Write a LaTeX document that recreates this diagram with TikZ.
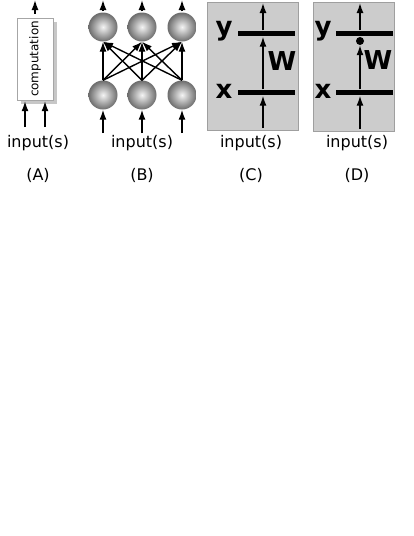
\documentclass[tikz,border=0pt]{standalone}
\usepackage{fontspec}
\setmainfont{DejaVu Sans}
\usetikzlibrary{arrows.meta,shadows}
\tikzset{
  arr/.style={-{Latex[length=10pt,width=7pt]}, line width=1.4pt},
  lbl/.style={font=\fontsize{16}{19}\selectfont, inner sep=0pt},
  big/.style={font=\fontsize{26}{30}\selectfont\bfseries, inner sep=0pt},
  ball/.style={circle, minimum size=29pt, inner sep=0pt, inner color=gray!8, outer color=gray!85!black},
  panel/.style={draw=gray!75, fill=gray!40, line width=0.8pt},
  bar/.style={fill=black, minimum width=57pt, minimum height=5pt, inner sep=0pt},
  compbox/.style={draw=gray!70, fill=white, minimum width=36pt, minimum height=82pt, inner sep=0pt,
    drop shadow={shadow xshift=4pt, shadow yshift=-4pt, fill=gray!55, opacity=0.8}}
}
\begin{document}
\begin{tikzpicture}[x=1pt,y=-1pt]
\useasboundingbox[fill=white] (0,0) rectangle (414,536);
% ---------- (A)
\node[compbox] (box) at (35,59) {};
\node[rotate=90, font=\fontsize{12}{14}\selectfont, inner sep=0pt] (comp) at (box.center) {computation};
\coordinate (aout) at (35,0);
\coordinate (ain1) at (25,127);
\coordinate (ain2) at (45,127);
\draw[arr] ([yshift=4pt]box.north) -- (aout);
\draw[arr] (ain1) -- ([yshift=-1pt]ain1 |- box.south);
\draw[arr] (ain2) -- ([yshift=-1pt]ain2 |- box.south);
\node[lbl] (inA) at (38,143) {input(s)};
\node[lbl] (capA) at (38,175) {(A)};
% ---------- (B)
\foreach \i/\x in {1/103,2/142,3/182}{
  \node[ball] (t\i) at (\x,27) {};
  \node[ball] (b\i) at (\x,95) {};
  \coordinate (to\i) at (\x,0);
  \coordinate (bi\i) at (\x,133);
  \draw[arr] ([yshift=1pt]t\i.north) -- (to\i);
  \draw[arr] (bi\i) -- (b\i.south);
}
\foreach \i in {1,2,3}{
  \foreach \j in {1,2,3}{
    \draw[arr] (b\i.north) -- (t\j.south);
  }
}
\node[lbl] (inB) at (142,143) {input(s)};
\node[lbl] (capB) at (142,175) {(B)};
% ---------- (C)
\node[panel, minimum width=91pt, minimum height=128pt, inner sep=0pt] (pC) at (252.5,66) {};
\node[bar] (yC) at (266.5,33) {};
\node[bar] (xC) at (266.5,92) {};
\node[big] (ylC) at (224,31) {y};
\node[big] (xlC) at (224,91) {x};
\node[big] (wC) at (282,61) {W};
\coordinate (cin) at (263,128);
\coordinate (cout) at (263,3);
\draw[arr] (cin) -- ([yshift=-1pt]cin |- xC.south);
\draw[arr] (cin |- xC.north) -- ([yshift=-1pt]cin |- yC.south);
\draw[arr] (cin |- yC.north) -- (cout);
\node[lbl] (inC) at (251,143) {input(s)};
\node[lbl] (capC) at (251,175) {(C)};
% ---------- (D)
\node[panel, minimum width=81pt, minimum height=129pt, inner sep=0pt] (pD) at (353.5,66.5) {};
\node[bar] (yD) at (364,33) {};
\node[bar] (xD) at (364,92) {};
\node[big] (ylD) at (323,31) {y};
\node[big] (xlD) at (323,91) {x};
\node[big] (wD) at (378,60) {W};
\coordinate (din) at (360,129);
\coordinate (dout) at (360,3);
\node[circle, fill=black, minimum size=8pt, inner sep=0pt] (dot) at (360,41) {};
\draw[arr] (din) -- ([yshift=-1pt]din |- xD.south);
\draw[arr] (din |- xD.north) -- (dot.south);
\draw[arr] (din |- yD.north) -- (dout);
\node[lbl] (inD) at (357,143) {input(s)};
\node[lbl] (capD) at (357,175) {(D)};
\end{tikzpicture}
\end{document}
